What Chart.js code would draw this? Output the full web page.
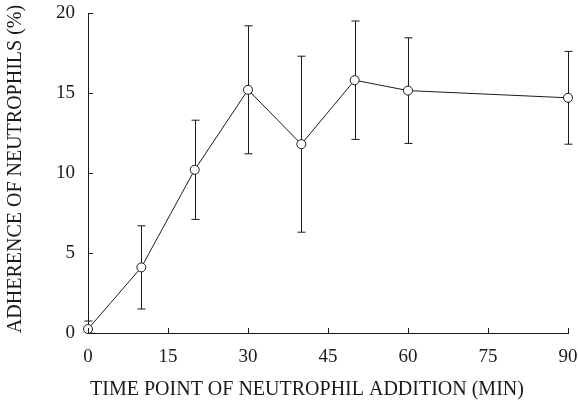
<!DOCTYPE html>
<html>
<head>
<meta charset="utf-8">
<script src="https://cdn.jsdelivr.net/npm/chart.js@4.4.1/dist/chart.umd.min.js"></script>
<style>
  html, body { margin: 0; padding: 0; background: #fff; }
  #wrap { width: 578px; height: 404px; position: relative; }
</style>
</head>
<body>
<div id="wrap"><canvas id="c" width="578" height="404"></canvas></div>
<script>
// Time of neutrophil addition (min) and mean adherence (%) with error
const timePoints = [0, 10, 20, 30, 40, 50, 60, 90];
const adherence  = [0.25, 4.1, 10.2, 15.2, 11.8, 15.8, 15.15, 14.7];
const errorBars  = [0.5, 2.6, 3.1, 4.0, 5.5, 3.7, 3.3, 2.9];
const xTicks = [0, 15, 30, 45, 60, 75, 90];
const yTicks = [0, 5, 10, 15, 20];
const xTitle = 'TIME POINT OF NEUTROPHIL ADDITION (MIN)';
const yTitle = 'ADHERENCE OF NEUTROPHILS (%)';

const INK = '#1a1a1a';
const SERIF = '"Liberation Serif", "Times New Roman", serif';

// Vertical error bars with caps, drawn underneath the markers
const errorBarPlugin = {
  id: 'errorBars',
  beforeDatasetsDraw(chart) {
    const { ctx, scales: { x, y }, chartArea } = chart;
    ctx.save();
    ctx.beginPath();
    ctx.rect(chartArea.left - 10, chartArea.top - 10, chartArea.width + 20, chartArea.height + 10);
    ctx.clip();
    ctx.strokeStyle = INK;
    ctx.lineWidth = 1;
    const cap = 4;
    timePoints.forEach((t, i) => {
      const px = Math.round(x.getPixelForValue(t)) + 0.5;
      const hi = y.getPixelForValue(adherence[i] + errorBars[i]);
      const lo = y.getPixelForValue(Math.max(0, adherence[i] - errorBars[i]));
      ctx.beginPath();
      ctx.moveTo(px, hi); ctx.lineTo(px, lo);
      ctx.moveTo(px - cap, hi); ctx.lineTo(px + cap, hi);
      ctx.moveTo(px - cap, lo); ctx.lineTo(px + cap, lo);
      ctx.stroke();
    });
    ctx.restore();
  }
};

// Inward-facing tick marks on both axes, plus the axis titles
const axisDecorPlugin = {
  id: 'axisDecor',
  afterDraw(chart) {
    const { ctx, scales: { x, y }, chartArea } = chart;
    ctx.save();
    ctx.strokeStyle = INK;
    ctx.lineWidth = 1;
    const len = 5;
    ctx.beginPath();
    xTicks.forEach(v => {
      const px = Math.round(x.getPixelForValue(v)) + 0.5;
      ctx.moveTo(px, chartArea.bottom);
      ctx.lineTo(px, chartArea.bottom - len);
    });
    yTicks.forEach(v => {
      const py = Math.round(y.getPixelForValue(v)) + 0.5;
      ctx.moveTo(chartArea.left, py);
      ctx.lineTo(chartArea.left + len, py);
    });
    ctx.stroke();

    ctx.fillStyle = INK;
    ctx.font = '20px ' + SERIF;
    ctx.textAlign = 'center';
    ctx.textBaseline = 'middle';
    ctx.fillText(xTitle, 307, 390);
    ctx.translate(16, 169);
    ctx.rotate(-Math.PI / 2);
    ctx.fillText(yTitle, 0, 0);
    ctx.restore();
  }
};

new Chart(document.getElementById('c'), {
  type: 'line',
  data: {
    datasets: [{
      data: timePoints.map((t, i) => ({ x: t, y: adherence[i] })),
      borderColor: INK,
      borderWidth: 1,
      pointRadius: 4.5,
      pointBackgroundColor: '#fff',
      pointBorderColor: INK,
      pointBorderWidth: 1,
      tension: 0,
      clip: false
    }]
  },
  options: {
    responsive: false,
    animation: false,
    events: [],
    layout: { padding: { top: 13, right: 10, left: 0, bottom: 0 } },
    plugins: { legend: { display: false }, tooltip: { enabled: false } },
    scales: {
      x: {
        type: 'linear',
        min: 0, max: 90,
        afterBuildTicks(scale) { scale.ticks = xTicks.map(v => ({ value: v })); },
        afterFit(scale) {
          scale.height = 71;
          scale.paddingLeft = 0; scale.paddingRight = 0;
        },
        grid: { display: true, drawOnChartArea: false, drawTicks: false, tickLength: 0 },
        border: { display: true, color: INK, width: 1 },
        ticks: { color: INK, font: { family: SERIF, size: 19 }, padding: 13, maxRotation: 0 }
      },
      y: {
        min: 0, max: 20,
        afterBuildTicks(scale) { scale.ticks = yTicks.map(v => ({ value: v })); },
        afterFit(scale) {
          scale.width = 88;
          scale.paddingTop = 0; scale.paddingBottom = 0;
        },
        grid: { display: true, drawOnChartArea: false, drawTicks: false, tickLength: 0 },
        border: { display: true, color: INK, width: 1 },
        ticks: { color: INK, font: { family: SERIF, size: 19 }, padding: 13 }
      }
    }
  },
  plugins: [errorBarPlugin, axisDecorPlugin]
});
</script>
</body>
</html>
